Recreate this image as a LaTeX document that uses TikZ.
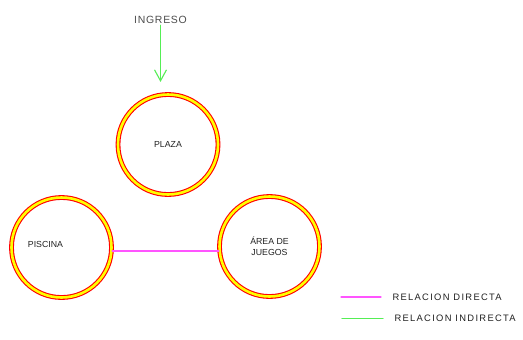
\documentclass[tikz,border=0pt]{standalone}
\usepackage{fontspec}
\setmainfont{Liberation Sans}
\usetikzlibrary{positioning, arrows.meta, calc}
\definecolor{zonered}{HTML}{FF0000}
\definecolor{zoneyel}{HTML}{FFFF00}
\definecolor{reldir}{HTML}{FF55FF}
\definecolor{relind}{HTML}{55EE55}
\definecolor{txtink}{HTML}{202020}

\begin{document}
\begin{tikzpicture}[
  x=1bp, y=-1bp,
  line width=1bp, line cap=round, line join=round,
  zone/.style = {circle, draw=zonered, line width=1.1bp, double=zoneyel,
                 double distance=2.6bp, minimum size=100bp, inner sep=0pt,
                 align=center, font=\fontsize{8.8}{11}\selectfont, text=txtink},
  dir/.style  = {draw=reldir, line width=1.1bp},
  ind/.style  = {draw=relind, line width=1.1bp},
  ttl/.style  = {font=\addfontfeature{LetterSpace=7}\fontsize{10.5}{12}\selectfont,
                 text=txtink!80, inner sep=1pt},
  leg/.style  = {font=\addfontfeature{LetterSpace=14}\fontsize{9.4}{11}\selectfont,
                 text=txtink, anchor=west, inner sep=0pt}
]
\useasboundingbox (0,0) rectangle (523,339);

\node[zone] (plaza) at (168,144.5) {PLAZA};
\node[zone] (pisc) at (61.5,247.5) {};
\node[font=\fontsize{8.8}{11}\selectfont, text=txtink, inner sep=0pt]
  (pisctxt) at (45.5,244) {PISCINA};
\node[zone] (juegos) at (269.5,246.5) {ÁREA DE\\JUEGOS};

% ingreso
\node[ttl] (ing) at (160.5,20) {INGRESO};
\draw[ind, -{Straight Barb[length=11bp, width=12bp]}, shorten >=12bp]
  (ing.south) -- (ing.south |- plaza.north);

% relacion directa
\draw[dir] ([yshift=-3.5bp]pisc.east) -- ([yshift=-3.5bp]pisc.east -| juegos.west);

% leyenda
\node[leg] (ldir) at (392,297) {RELACION DIRECTA};
\node[leg] (lind) at (394,318.5) {RELACION INDIRECTA};
\draw[dir] ([xshift=-51bp]ldir.west) -- ([xshift=-11bp]ldir.west);
\draw[ind] ([xshift=-52bp]lind.west) -- ([xshift=-11bp]lind.west);

\end{tikzpicture}
\end{document}
